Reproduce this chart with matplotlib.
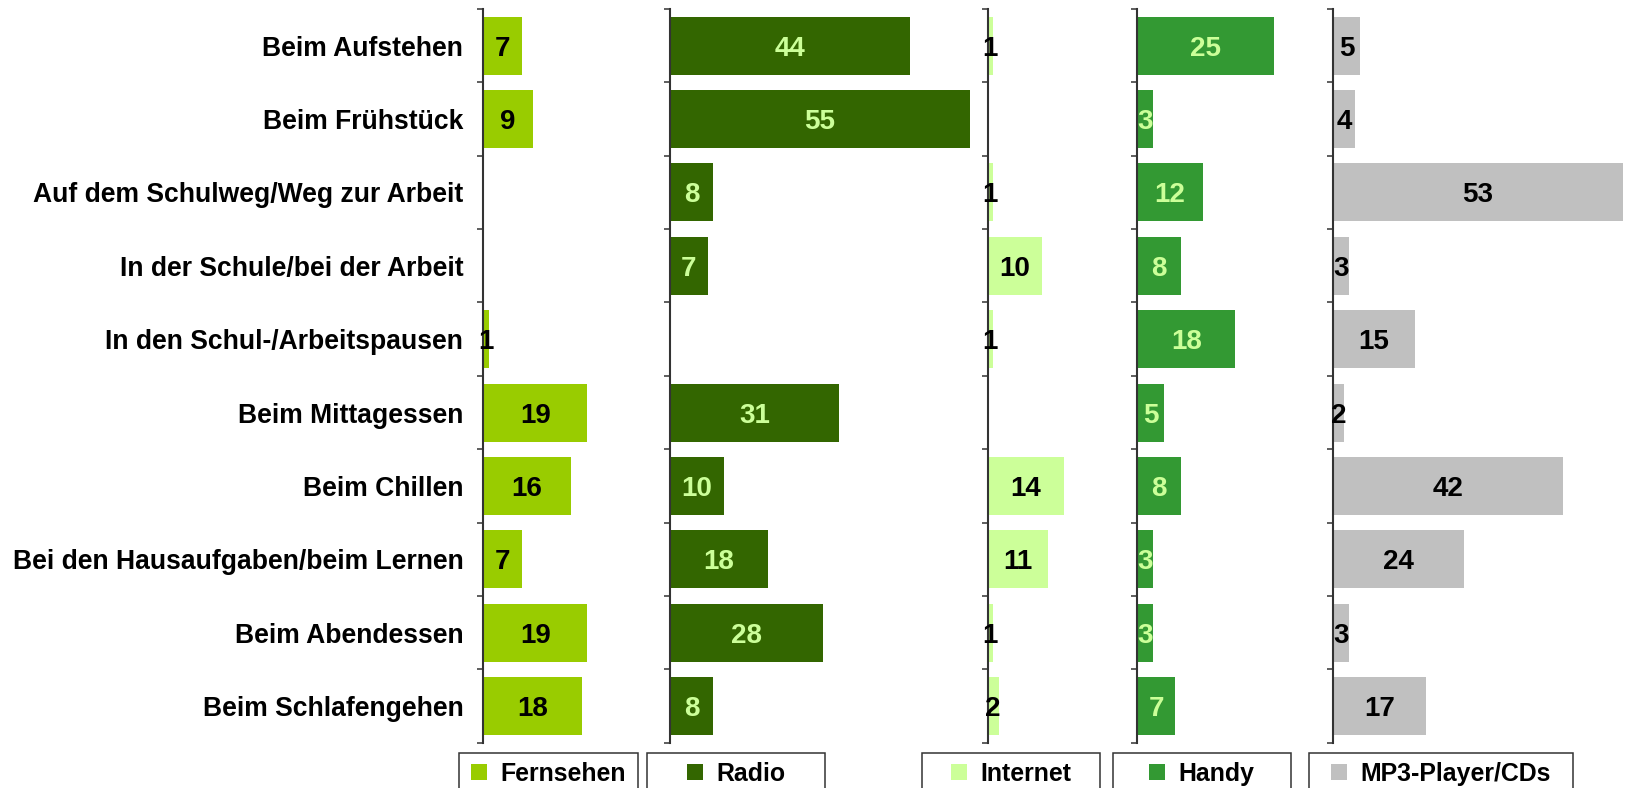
import matplotlib
matplotlib.use("Agg")
import matplotlib.pyplot as plt
from matplotlib.patches import Rectangle
from matplotlib.ticker import FixedLocator

plt.rcParams['font.family'] = ['Liberation Sans', 'DejaVu Sans']
plt.rcParams['font.weight'] = 'bold'

# --- data -------------------------------------------------------------
categories = [
    "Beim Aufstehen",
    "Beim Frühstück",
    "Auf dem Schulweg/Weg zur Arbeit",
    "In der Schule/bei der Arbeit",
    "In den Schul-/Arbeitspausen",
    "Beim Mittagessen",
    "Beim Chillen",
    "Bei den Hausaufgaben/beim Lernen",
    "Beim Abendessen",
    "Beim Schlafengehen",
]
series_names = ["Fernsehen", "Radio", "Internet", "Handy", "MP3-Player/CDs"]
fernsehen = [7, 9, 0, 0, 1, 19, 16, 7, 19, 18]
radio = [44, 55, 8, 7, 0, 31, 10, 18, 28, 8]
internet = [1, 0, 1, 10, 1, 0, 14, 11, 1, 2]
handy = [25, 3, 12, 8, 18, 5, 8, 3, 3, 7]
mp3 = [5, 4, 53, 3, 15, 2, 42, 24, 3, 17]
series_values = [fernsehen, radio, internet, handy, mp3]

# --- styling ----------------------------------------------------------
bar_colors = ["#99CC00", "#336600", "#CCFF99", "#339933", "#C0C0C0"]
label_colors = ["black", "#CCFF99", "black", "#CCFF99", "black"]
axis_color = "#333333"

W, H = 1629, 788
fig = plt.figure(figsize=(W / 100, H / 100), dpi=100)

# panel layout in pixels: left edge of each value axis
panel_left = [483.3, 669.6, 987.7, 1137.0, 1333.0]
panel_right = [669.6, 987.7, 1137.0, 1333.0, 1629.0]
px_per_unit = 5.47
top_px, bottom_px = 9.0, 742.7

n = len(categories)
ypos = list(range(n))

for k, (vals, col, lcol) in enumerate(zip(series_values, bar_colors, label_colors)):
    l, r = panel_left[k], panel_right[k]
    ax = fig.add_axes([l / W, 1 - bottom_px / H, (r - l) / W, (bottom_px - top_px) / H])
    ax.set_xlim(0, (r - l) / px_per_unit)
    ax.set_ylim(n - 0.5, -0.5)
    ax.patch.set_visible(False)
    for s in ("top", "right", "bottom"):
        ax.spines[s].set_visible(False)
    ax.spines["left"].set_color(axis_color)
    ax.spines["left"].set_linewidth(1.5)
    ax.set_xticks([])

    ax.barh(ypos, vals, height=0.79, color=col, left=0, zorder=1)
    for y, v in zip(ypos, vals):
        if v:
            ax.text(v / 2, y, str(v), ha="center", va="center_baseline",
                    fontsize=20, fontweight="bold", color=lcol, zorder=3)

    ax.yaxis.set_major_locator(FixedLocator(ypos))
    ax.yaxis.set_minor_locator(FixedLocator([i - 0.5 for i in range(n + 1)]))
    ax.tick_params(axis="y", which="major", length=0, pad=14.4)
    ax.tick_params(axis="y", which="minor", direction="out", length=4.5,
                   width=1.1, color=axis_color)
    if k == 0:
        ax.set_yticklabels(categories, fontsize=19.1, fontweight="bold")
    else:
        ax.set_yticklabels([])

# --- legend boxes along the bottom ------------------------------------
lax = fig.add_axes([0, 0, 1, 1])
lax.set_xlim(0, W)
lax.set_ylim(H, 0)
lax.axis("off")
lax.patch.set_visible(False)

boxes = [(459, 638), (647, 825), (922, 1100), (1113, 1291), (1309, 1573)]
box_top = 752.7
marker = 16
gap = 13
renderer = fig.canvas.get_renderer()
for (bl, br), name, col in zip(boxes, series_names, bar_colors):
    lax.add_patch(Rectangle((bl, box_top), br - bl, 60, facecolor="white",
                            edgecolor=axis_color, linewidth=1.1, clip_on=False))
    t = lax.text(0, 771.5, name, ha="left", va="center_baseline",
                 fontsize=17.9, fontweight="bold", color="black")
    tw = t.get_window_extent(renderer).width
    group = marker + gap + tw
    x0 = (bl + br) / 2 - group / 2
    lax.add_patch(Rectangle((x0, 771.5 - marker / 2), marker, marker,
                            facecolor=col, edgecolor="none"))
    t.set_x(x0 + marker + gap)

fig.savefig("out.png", dpi=100)
